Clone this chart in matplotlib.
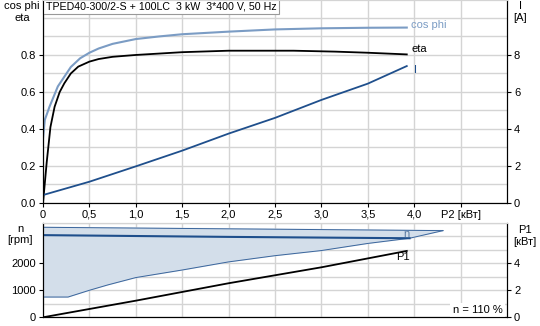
import numpy as np
import matplotlib
matplotlib.use("Agg")
import matplotlib.pyplot as plt
from matplotlib.ticker import MultipleLocator

plt.rcParams['font.family'] = ['Liberation Sans', 'DejaVu Sans']

# ---- data ----
eta_p2 = [0, 0.04, 0.08, 0.125, 0.18, 0.23, 0.3, 0.38, 0.5, 0.6, 0.75, 1.0,
          1.5, 2.0, 2.7, 3.15, 3.5, 3.92]
eta = [0.0, 0.22, 0.41, 0.52, 0.60, 0.647, 0.70, 0.737, 0.764, 0.778, 0.79, 0.80,
       0.815, 0.823, 0.823, 0.818, 0.812, 0.803]

cos_p2 = [0, 0.02, 0.07, 0.16, 0.3, 0.4, 0.5, 0.6, 0.75, 1.0, 1.25, 1.5, 2.0,
          2.5, 3.0, 3.5, 3.92]
cosphi = [0.35, 0.45, 0.52, 0.63, 0.735, 0.782, 0.812, 0.835, 0.86, 0.886, 0.90,
          0.912, 0.926, 0.938, 0.944, 0.947, 0.948]

cur_p2 = [0, 0.5, 1.0, 1.5, 2.0, 2.5, 3.0, 3.5, 3.92]
cur = [0.43, 1.15, 1.98, 2.83, 3.75, 4.6, 5.57, 6.45, 7.4]

n_p2 = [0, 2.0, 3.95]
n_rpm = [3040, 2975, 2925]

band_top_p2 = [0, 2.5, 4.31]
band_top = [3330, 3259, 3207]
band_low_p2 = [0, 0.27, 0.5, 0.7, 1.0, 1.5, 2.0, 2.5, 3.0, 3.5, 3.95, 4.31]
band_low = [750, 750, 1000, 1200, 1470, 1750, 2050, 2280, 2470, 2733, 2925, 3207]

p1_p2 = [0, 1.0, 2.0, 3.0, 3.92]
p1 = [0.0, 1.23, 2.52, 3.70, 4.91]

x_ticks = [0, 0.5, 1.0, 1.5, 2.0, 2.5, 3.0, 3.5, 4.0, 4.5]
x_labels = ['0', '0,5', '1,0', '1,5', '2,0', '2,5', '3,0', '3,5', '4,0', 'P2 [кВт]']

title = 'TPED40-300/2-S + 100LC  3 kW  3*400 V, 50 Hz'

c_cos = '#7b9cc4'
c_cur = '#1f4f8c'
c_grid = '#d4d4d4'
fs = 8

fig = plt.figure(figsize=(5.4, 3.26), dpi=100)
W, H = 540, 326

def box(l, t, r, b):
    return [l / W, 1 - b / H, (r - l) / W, (b - t) / H]

# ---- top chart ----
ax = fig.add_axes(box(43, 0, 507, 203))
ax.set_xlim(0, 5)
ax.set_ylim(0, 1.097)
ax.plot(cos_p2, cosphi, color=c_cos, lw=1.5)
ax.plot(eta_p2, eta, color='black', lw=1.3)
ax2 = ax.twinx()
ax2.set_ylim(0, 10.97)
ax2.plot(cur_p2, cur, color=c_cur, lw=1.3)

ax.set_xticks(x_ticks)
ax.set_xticklabels(x_labels, fontsize=fs)
ax.set_yticks([0, 0.2, 0.4, 0.6, 0.8])
ax.set_yticklabels(['0.0', '0.2', '0.4', '0.6', '0.8'], fontsize=fs)
ax.yaxis.set_minor_locator(MultipleLocator(0.1))
ax.grid(True, which='both', color=c_grid, lw=1)
ax.tick_params(which='minor', length=0)
ax.tick_params(which='major', length=3, pad=2)
ax2.set_yticks([0, 2, 4, 6, 8])
ax2.set_yticklabels(['0', '2', '4', '6', '8'], fontsize=fs)
ax2.tick_params(length=3, pad=2)
for a in (ax, ax2):
    a.spines['top'].set_color(c_grid)
    a.set_axisbelow(True)

ax.text(3.97, 0.96, 'cos phi', color=c_cos, fontsize=fs, va='center')
ax.text(3.97, 0.83, 'eta', color='black', fontsize=fs, va='center')
ax.text(4.0, 0.72, 'I', color=c_cur, fontsize=fs, va='center')
ax.text(0.03, 1.088, title, fontsize=7.7, va='top',
        bbox=dict(boxstyle='square,pad=0.25', fc='white', ec='#999999', lw=0.8))
fig.text(22 / W, 1 - 6 / H, 'cos phi', fontsize=fs, ha='center', va='center')
fig.text(22 / W, 1 - 18 / H, 'eta', fontsize=fs, ha='center', va='center')
fig.text(520 / W, 1 - 6 / H, 'I', fontsize=fs, ha='center', va='center')
fig.text(520 / W, 1 - 18 / H, '[A]', fontsize=fs, ha='center', va='center')

# ---- bottom chart ----
bx = fig.add_axes(box(43, 222.7, 507, 317.3))
bx.set_xlim(0, 5)
bx.set_ylim(0, 3500)
poly_x = band_top_p2 + band_low_p2[::-1]
poly_y = band_top + band_low[::-1]
bx.fill(poly_x, poly_y, color='#d3deea', zorder=2)
bx.plot(band_top_p2, band_top, color='#3a659c', lw=0.7, zorder=3)
bx.plot(band_low_p2, band_low, color='#3a659c', lw=0.7, zorder=3)
bx.plot(n_p2, n_rpm, color=c_cur, lw=1.5, zorder=4)
bx2 = bx.twinx()
bx2.set_ylim(0, 7)
bx2.plot(p1_p2, p1, color='black', lw=1.3)

bx.set_xticks(x_ticks)
bx.tick_params(axis='x', length=0, labelbottom=False)
bx.set_yticks([0, 1000, 2000])
bx.set_yticklabels(['0', '1000', '2000'], fontsize=fs)
bx.yaxis.set_minor_locator(MultipleLocator(500))
bx.grid(True, which='both', color=c_grid, lw=1)
bx.tick_params(which='minor', length=0)
bx.tick_params(axis='y', which='major', length=3, pad=2)
bx2.set_yticks([0, 2, 4])
bx2.set_yticklabels(['0', '2', '4'], fontsize=fs)
bx2.tick_params(length=3, pad=2)
for a in (bx, bx2):
    a.spines['top'].set_color(c_grid)
    a.set_axisbelow(True)

bx.text(3.88, 3100, 'n', color='#5a7aa0', fontsize=fs, va='center', zorder=5)
bx2.text(3.8, 4.45, 'P1', color='black', fontsize=fs, va='center')
bx.text(4.95, 280, 'n = 110 %', fontsize=fs, ha='right', va='center',
        bbox=dict(boxstyle='square,pad=0.2', fc='white', ec='none'), zorder=6)
fig.text(20 / W, 1 - 229 / H, 'n', fontsize=fs, ha='center', va='center')
fig.text(20 / W, 1 - 240 / H, '[rpm]', fontsize=fs, ha='center', va='center')
fig.text(525 / W, 1 - 230 / H, 'P1', fontsize=fs, ha='center', va='center')
fig.text(525 / W, 1 - 242 / H, '[кВт]', fontsize=fs, ha='center', va='center')

fig.savefig('out.png', dpi=100)
